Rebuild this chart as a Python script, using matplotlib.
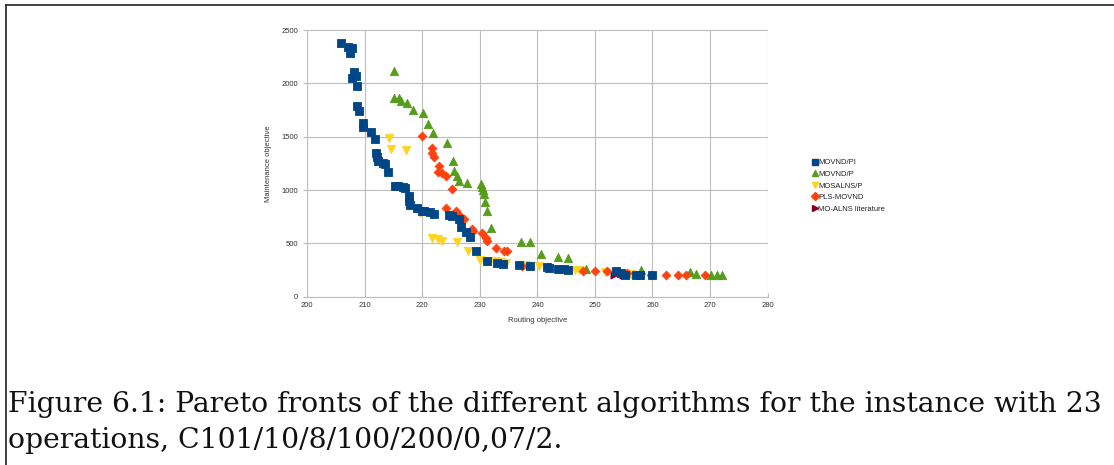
import matplotlib
matplotlib.use("Agg")
import matplotlib.pyplot as plt
from matplotlib.lines import Line2D

plt.rcParams["font.family"] = ["Liberation Sans", "DejaVu Sans"]

# ---- data ----
pi_x = [205.8, 207.0, 207.7, 207.5, 208.2, 208.4, 207.8, 208.6, 208.7, 209.0, 209.6, 209.7,
        211.0, 211.8, 211.9, 212.1, 212.3, 213.2, 213.5, 214.0, 215.3, 215.8, 216.6, 217.0,
        217.6, 217.7, 217.9, 219.0, 219.9, 220.3, 221.3, 222.1, 224.6, 225.1, 226.3, 226.8,
        227.6, 228.3, 229.3, 231.2, 232.9, 234.1, 236.8, 238.7, 241.7, 242.1, 243.6, 244.6,
        245.4, 253.7, 254.6, 255.3, 257.1, 257.9, 259.9]
pi_y = [2375, 2337, 2328, 2281, 2109, 2069, 2047, 1975, 1787, 1744, 1631, 1594,
        1544, 1481, 1350, 1306, 1269, 1256, 1244, 1170, 1041, 1041, 1031, 1019,
        947, 900, 859, 831, 806, 800, 791, 775, 766, 753, 728, 656,
        603, 563, 425, 338, 319, 303, 294, 284, 275, 269, 259, 256,
        250, 244, 225, 206, 206, 206, 206]

p_x = [215.0, 215.0, 215.9, 216.3, 217.3, 218.4, 220.1, 221.0, 221.8, 224.2, 225.3, 225.5,
       226.0, 226.4, 227.8, 230.2, 230.4, 230.6, 230.8, 230.9, 231.2, 232.0, 237.2, 238.7,
       240.6, 243.6, 245.4, 248.5, 258.0, 266.6, 267.5, 270.2, 271.2, 272.1]
p_y = [2119, 1866, 1859, 1834, 1819, 1750, 1719, 1619, 1531, 1438, 1270, 1181,
       1134, 1088, 1063, 1056, 1031, 1000, 963, 884, 806, 644, 516, 516,
       400, 369, 359, 259, 253, 234, 213, 206, 206, 200]

sa_x = [214.2, 214.5, 217.2, 219.6, 221.7, 222.7, 223.5, 226.0, 228.0, 230.0, 230.9, 231.8,
        232.6, 233.6, 234.6, 238.1, 240.3, 242.0, 246.6, 247.2, 251.7, 254.7, 256.2]
sa_y = [1484, 1388, 1372, 784, 550, 541, 525, 516, 431, 344, 338, 338,
        331, 325, 316, 300, 284, 269, 253, 250, 234, 213, 213]

pls_x = [220.0, 221.7, 221.6, 222.0, 222.9, 222.8, 223.5, 224.1, 225.1, 224.1, 225.8, 226.1,
         226.8, 227.2, 228.6, 228.8, 230.4, 231.0, 231.3, 232.8, 234.2, 234.7, 237.4, 241.9,
         247.9, 250.0, 252.1, 255.6, 259.7, 262.4, 264.4, 265.8, 269.2]
pls_y = [1509, 1397, 1344, 1306, 1225, 1166, 1156, 1134, 1009, 831, 806, 781,
         750, 728, 634, 619, 594, 550, 525, 453, 431, 425, 291, 275,
         244, 244, 238, 222, 206, 206, 206, 206, 206]

lit_x = [253.3, 254.9, 256.5]
lit_y = [206, 206, 210]

names = ["MOVND/PI", "MOVND/P", "MOSALNS/P", "PLS-MOVND", "MO-ALNS literature"]
colors = ["#004586", "#579d1c", "#ffd320", "#ff420e", "#7e0021"]
markers = ["s", "^", "v", "D", ">"]

x_ticks = [200, 210, 220, 230, 240, 250, 260, 270, 280]
y_ticks = [0, 500, 1000, 1500, 2000, 2500]

caption = ("Figure 6.1: Pareto fronts of the different algorithms for the instance with 23\n"
           "operations, C101/10/8/100/200/0,07/2.")

# ---- figure ----
fig = plt.figure(figsize=(11.14, 4.65), dpi=100)
ax = fig.add_axes([307.3 / 1114, 1 - 296.7 / 465, (767.5 - 307.3) / 1114, (296.7 - 30) / 465])

series = [(pi_x, pi_y), (p_x, p_y), (sa_x, sa_y), (pls_x, pls_y), (lit_x, lit_y)]
sizes = [38, 36, 36, 20, 26]
zo = {4: 2, 1: 3, 2: 4, 3: 5, 0: 6}
for i in [1, 2, 3, 4, 0]:
    xs, ys = series[i]
    ax.scatter(xs, ys, s=sizes[i], marker=markers[i], color=colors[i], linewidths=0.6,
               edgecolors=colors[i], zorder=zo[i])

ax.set_xlim(200, 280)
ax.set_ylim(0, 2500)
ax.set_xticks(x_ticks)
ax.set_yticks(y_ticks)
ax.grid(True, color="#bdbdbd", linewidth=0.8)
ax.set_axisbelow(True)
for s in ["top", "right"]:
    ax.spines[s].set_visible(False)
for s in ["left", "bottom"]:
    ax.spines[s].set_color("#bdbdbd")
ax.tick_params(axis="both", labelsize=5.5, colors="#bdbdbd", labelcolor="#333333",
               length=3, width=0.8)
ax.tick_params(axis="x", direction="in")
ax.set_xlabel("Routing objective", fontsize=5.5, color="#333333", labelpad=6)
ax.set_ylabel("Maintenance objective", fontsize=5.5, color="#333333", labelpad=7)

handles = [Line2D([], [], linestyle="none", marker=markers[i], color=colors[i], markersize=4)
           for i in range(5)]
fig.legend(handles, names, loc="upper left", bbox_to_anchor=(810 / 1114, 1 - 156 / 465),
           frameon=False, fontsize=5.5, handlelength=0.6, handletextpad=0.1,
           labelspacing=0.55, borderaxespad=0, labelcolor="#222222")

# page frame lines
fig.add_artist(Line2D([6 / 1114, 6 / 1114], [0, 1 - 5.5 / 465], transform=fig.transFigure,
                      color="#333333", linewidth=1.3))
fig.add_artist(Line2D([6 / 1114, 1], [1 - 5.5 / 465, 1 - 5.5 / 465], transform=fig.transFigure,
                      color="#333333", linewidth=1.3))

fig.text(8 / 1114, 1 - 391 / 465, caption, fontsize=20.3, family="DejaVu Serif",
         va="top", ha="left", color="#111111", linespacing=1.42)

fig.savefig("out.png", dpi=100)
